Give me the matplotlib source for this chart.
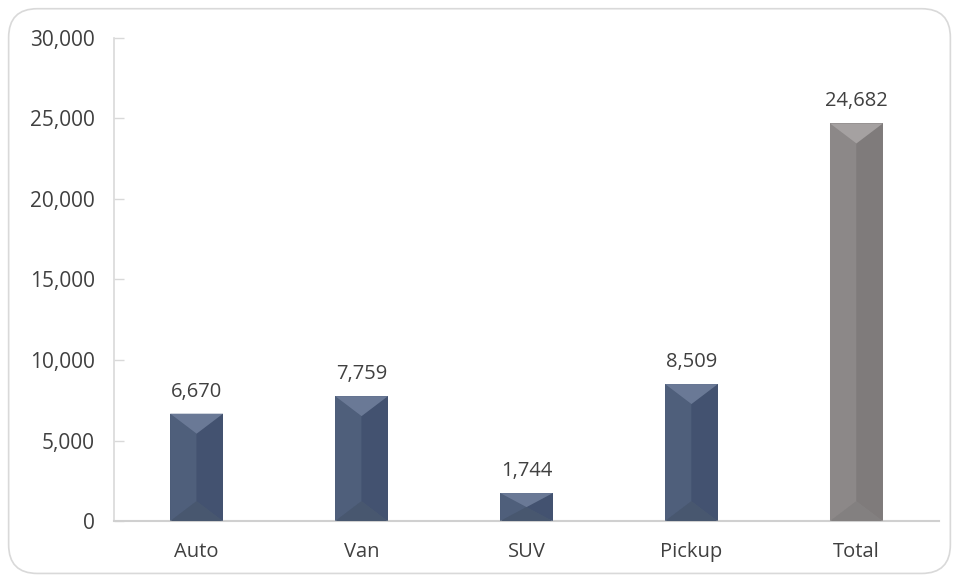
import matplotlib
matplotlib.use("Agg")
import matplotlib.pyplot as plt
from matplotlib.patches import Polygon, FancyBboxPatch
from matplotlib.ticker import FuncFormatter, MultipleLocator

categories = ["Auto", "Van", "SUV", "Pickup", "Total"]
values = [6670, 7759, 1744, 8509, 24682]
value_labels = ["6,670", "7,759", "1,744", "8,509", "24,682"]

plt.rcParams["font.family"] = ["Open Sans", "DejaVu Sans"]

fig = plt.figure(figsize=(9.59, 5.81), dpi=100)
ax_rect = [0.119, 0.103, 0.860, 0.832]
ax = fig.add_axes(ax_rect)

# rounded outer frame
frame = FancyBboxPatch((0.009, 0.013), 0.982, 0.972,
                       boxstyle="round,pad=0,rounding_size=0.03",
                       transform=fig.transFigure, facecolor="none",
                       edgecolor="#d9d9d9", linewidth=1.2, zorder=0,
                       mutation_aspect=959 / 581)
fig.patches.append(frame)

ymax = 30000
ax.set_xlim(-0.5, len(categories) - 0.5)
ax.set_ylim(0, ymax)

width = 0.32
base_colors = ["#4a5a75"] * 4 + ["#878383"]
top_colors = ["#6a7996"] * 4 + ["#a5a1a1"]
left_colors = ["#4f5f7b"] * 4 + ["#8c8888"]
right_colors = ["#435270"] * 4 + ["#7f7b7b"]
bottom_colors = ["#48576f"] * 4 + ["#838080"]

bars = ax.bar(range(len(categories)), values, width=width,
              color=base_colors, zorder=2)

# bevel shading for each bar, derived from the bar geometry
ax_h_px = fig.get_figheight() * fig.dpi * ax_rect[3]
units_per_px = ymax / ax_h_px
for i, (b, v) in enumerate(zip(bars, values)):
    x0 = b.get_x()
    x1 = x0 + b.get_width()
    xc = (x0 + x1) / 2
    d = min(20 * units_per_px, v / 2)
    # left and right faces
    ax.add_patch(Polygon([(x0, 0), (x0, v), (xc, v - d), (xc, d)],
                         closed=True, facecolor=left_colors[i], edgecolor="none", zorder=3))
    ax.add_patch(Polygon([(x1, 0), (x1, v), (xc, v - d), (xc, d)],
                         closed=True, facecolor=right_colors[i], edgecolor="none", zorder=3))
    # top and bottom faces
    ax.add_patch(Polygon([(x0, v), (x1, v), (xc, v - d)],
                         closed=True, facecolor=top_colors[i], edgecolor="none", zorder=4))
    ax.add_patch(Polygon([(x0, 0), (x1, 0), (xc, d)],
                         closed=True, facecolor=bottom_colors[i], edgecolor="none", zorder=4))
    ax.text(xc, v + 17 * units_per_px, value_labels[i], ha="center", va="baseline",
            fontsize=14.5, color="#404040", zorder=5)

ax.set_xticks(range(len(categories)))
ax.set_xticklabels(categories, fontsize=14.5, color="#404040")
ax.yaxis.set_major_locator(MultipleLocator(5000))
ax.yaxis.set_major_formatter(FuncFormatter(lambda v, p: f"{int(v):,}"))
for lab in ax.get_yticklabels():
    lab.set_fontsize(15)
    lab.set_color("#404040")

ax.tick_params(axis="x", length=0, pad=15)
ax.tick_params(axis="y", direction="in", length=7, width=1, color="#d9d9d9", pad=14)

for s in ["top", "right"]:
    ax.spines[s].set_visible(False)
ax.spines["left"].set_color("#d9d9d9")
ax.spines["bottom"].set_color("#d0d0d0")
ax.spines["left"].set_linewidth(1.2)
ax.spines["bottom"].set_linewidth(1.5)

fig.savefig("out.png", dpi=100)
